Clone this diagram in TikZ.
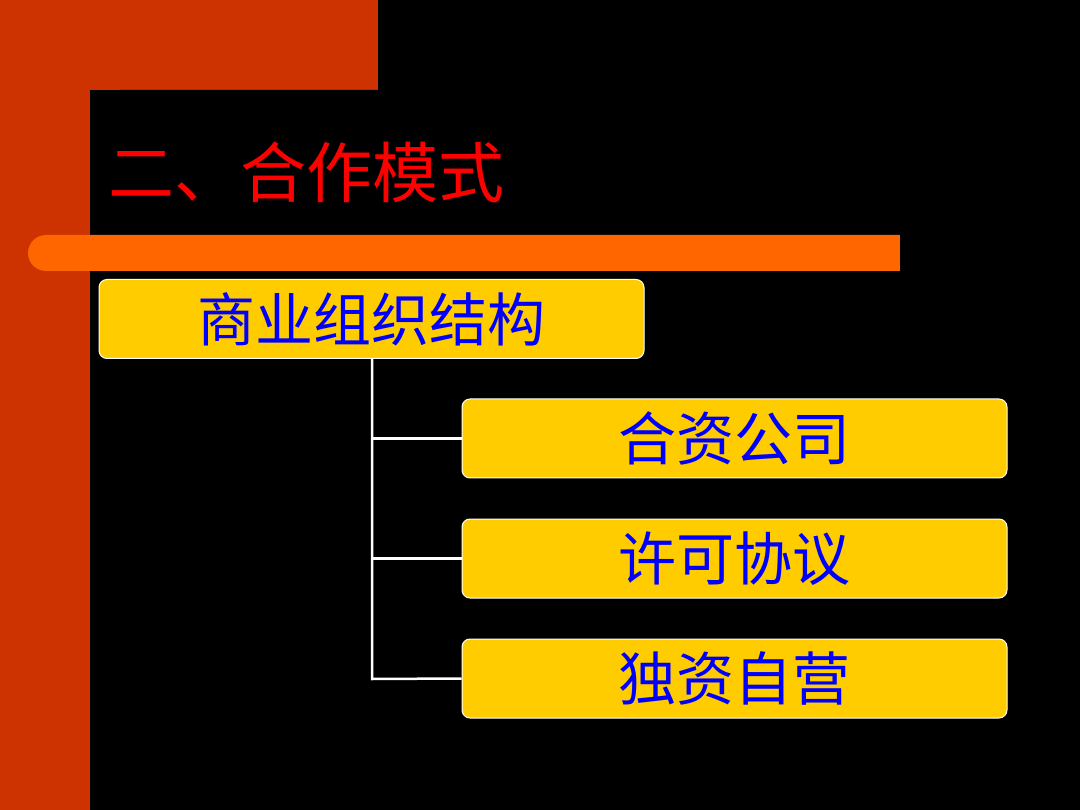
\documentclass[tikz,border=0pt]{standalone}
\usepackage{fontspec}
\newfontfamily\cjk{Noto Sans CJK SC}
\definecolor{redbg}{HTML}{CC3300}
\definecolor{barc}{HTML}{FF6600}
\definecolor{boxc}{HTML}{FFCC00}
\definecolor{txtb}{HTML}{0000FF}
\tikzset{box/.style={draw=white,line width=1pt,fill=boxc,rounded corners=8pt,minimum width=545pt,minimum height=79pt,inner sep=0pt,font=\cjk\fontsize{58}{60}\selectfont,text=txtb},
conn/.style={draw=white,line width=2.5pt}}
\begin{document}
\begin{tikzpicture}[x=1pt,y=-1pt]
\useasboundingbox (0,0) rectangle (1080,810);
\fill[black] (0,0) rectangle (1080,810);
\fill[redbg] (0,0) rectangle (378,90);
\fill[redbg] (0,0) rectangle (90,810);
\begin{scope}
\clip (0,0) rectangle (1080,810);
\fill[black,rounded corners=30pt] (90,90) rectangle (1200,900);
\end{scope}
\fill[barc,rounded corners=18pt] (28,235) rectangle (930,271);
\fill[barc] (880,235) rectangle (900,271);
\fill[black] (900,230) rectangle (940,275);
\node[anchor=west,text=red,font=\cjk\fontsize{66}{70}\selectfont,inner sep=0pt] (title) at (108,172) {二、合作模式};
\node[box] (root) at (371.5,319) {商业组织结构};
\node[box] (a) at (734.5,438.5) {合资公司};
\node[box] (b) at (734.5,558.5) {许可协议};
\node[box] (c) at (734.5,678.5) {独资自营};
\coordinate (v) at (372,679);
\draw[conn] (root.south -| v) -- (v) -- (c.west);
\draw[conn] (a.west -| v) -- (a.west);
\draw[conn] (b.west -| v) -- (b.west);
\end{tikzpicture}
\end{document}
